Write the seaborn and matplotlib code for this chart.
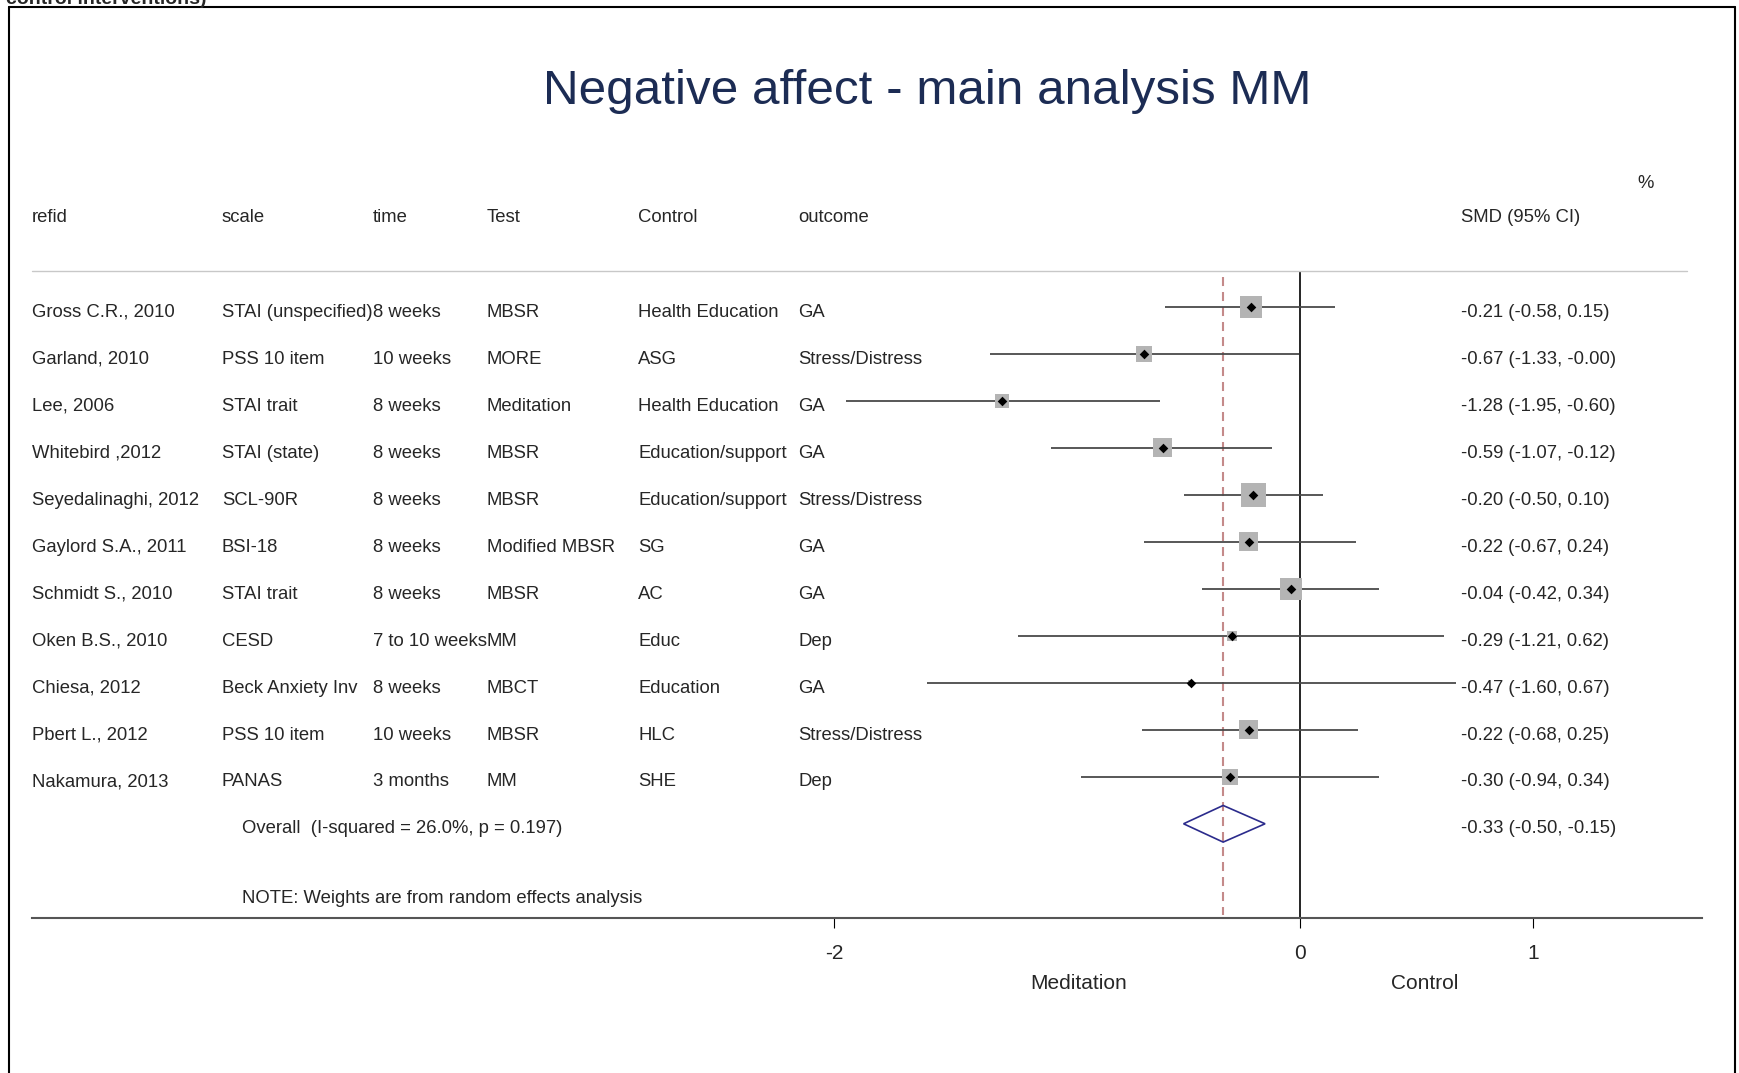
import numpy as np
import pandas as pd
import matplotlib
matplotlib.use("Agg")
import matplotlib.pyplot as plt
import seaborn as sns
from matplotlib.lines import Line2D

# ---------------- data ----------------
refid = ["Gross C.R., 2010", "Garland, 2010", "Lee, 2006", "Whitebird ,2012",
         "Seyedalinaghi, 2012", "Gaylord S.A., 2011", "Schmidt S., 2010",
         "Oken B.S., 2010", "Chiesa, 2012", "Pbert L., 2012", "Nakamura, 2013"]
scale = ["STAI (unspecified)", "PSS 10 item", "STAI trait", "STAI (state)", "SCL-90R",
         "BSI-18", "STAI trait", "CESD", "Beck Anxiety Inv", "PSS 10 item", "PANAS"]
time = ["8 weeks", "10 weeks", "8 weeks", "8 weeks", "8 weeks", "8 weeks", "8 weeks",
        "7 to 10 weeks", "8 weeks", "10 weeks", "3 months"]
test = ["MBSR", "MORE", "Meditation", "MBSR", "MBSR", "Modified MBSR", "MBSR", "MM",
        "MBCT", "MBSR", "MM"]
control = ["Health Education", "ASG", "Health Education", "Education/support",
           "Education/support", "SG", "AC", "Educ", "Education", "HLC", "SHE"]
outcome = ["GA", "Stress/Distress", "GA", "GA", "Stress/Distress", "GA", "GA", "Dep",
           "GA", "Stress/Distress", "Dep"]
smd = [-0.21, -0.67, -1.28, -0.59, -0.20, -0.22, -0.04, -0.29, -0.47, -0.22, -0.30]
ci_low = [-0.58, -1.33, -1.95, -1.07, -0.50, -0.67, -0.42, -1.21, -1.60, -0.68, -0.94]
ci_high = [0.15, -0.003, -0.60, -0.12, 0.10, 0.24, 0.34, 0.62, 0.67, 0.25, 0.34]
weight = [13.0, 7.1, 6.1, 10.4, 17.4, 10.4, 14.4, 2.9, 0.9, 10.4, 7.1]
overall_est, overall_low, overall_high = -0.33, -0.50, -0.15
i_squared = 26.0
p_value = 0.197
xticks = [-2, 0, 1]

title = "Negative affect - main analysis MM"
headers = ["refid", "scale", "time", "Test", "Control", "outcome"]
smd_header = "SMD (95% CI)"

# ---------------- style ----------------
sns.set_style("white")
plt.rcParams["font.family"] = ["Liberation Sans", "DejaVu Sans"]
plt.rcParams["axes.unicode_minus"] = False
plt.rcParams["lines.scale_dashes"] = False

W, H = 1739, 1073
fig = plt.figure(figsize=(W / 100, H / 100), dpi=100)


def fx(x):
    return x / W


def fy(y):
    return 1 - y / H


# axes region in pixel coordinates
ax_l, ax_r, ax_t, ax_b = 32, 1702, 271, 918
ax = fig.add_axes([fx(ax_l), fy(ax_b), (ax_r - ax_l) / W, (ax_b - ax_t) / H])
zero_px, unit_px = 1300.0, 232.9
ax.set_xlim((ax_l - zero_px) / unit_px, (ax_r - zero_px) / unit_px)
row0_px, row_px = 307.0, 46.98
ax.set_ylim((ax_b - row0_px) / row_px, (ax_t - row0_px) / row_px)

n = len(refid)
df = pd.DataFrame({"smd": smd, "lo": ci_low, "hi": ci_high, "w": weight,
                   "row": np.arange(n)})

# CI lines
ax.hlines(df["row"], df["lo"], df["hi"], color="#4a4a4a", lw=1.3, zorder=2)
# weight squares
k = 18.0
wmin, wmax = min(weight), max(weight)
sns.scatterplot(data=df, x="smd", y="row", size="w", sizes=(k * wmin, k * wmax),
                size_norm=(wmin, wmax), marker="s", color="#b4b4b4", linewidth=0,
                legend=False, ax=ax, zorder=3)
# point estimates
sns.scatterplot(data=df, x="smd", y="row", marker="D", s=24, color="black",
                linewidth=0, legend=False, ax=ax, zorder=4)

# overall diamond
orow = n
hh = 0.39
ax.fill([overall_low, overall_est, overall_high, overall_est, overall_low],
        [orow, orow - hh, orow, orow + hh, orow], facecolor="none",
        edgecolor="#2b2b8c", lw=1.2, zorder=4)

# reference lines
ax.axvline(0, color="black", lw=1.2, zorder=1)
ax.vlines(overall_est, -0.64, 12.94, colors="#c48a8a", lw=1.5,
          linestyles=(0, (6.5, 4.3)), zorder=1)

# separator line (top)
ax.plot([0, (1687 - ax_l) / (ax_r - ax_l)], [1, 1], transform=ax.transAxes,
        color="#c8c8c8", lw=1.0, clip_on=False)

# axes styling
for s in ["top", "left", "right"]:
    ax.spines[s].set_visible(False)
ax.spines["bottom"].set_color("#555555")
ax.spines["bottom"].set_linewidth(1.5)
ax.set_yticks([])
ax.set_xticks(xticks)
ax.set_xticklabels([str(t) for t in xticks])
ax.tick_params(axis="x", direction="out", length=7, width=0.8, color="black",
               labelsize=15, pad=12, bottom=True)
ax.set_xlabel("")
ax.set_ylabel("")
ax.grid(False)

# ---------------- texts ----------------
fs = 13.3
col_x = [32, 222, 373, 487, 638, 798]
smd_x = 1461
for cx, h in zip(col_x, headers):
    fig.text(fx(cx), fy(222), h, fontsize=fs, va="baseline", ha="left")
fig.text(fx(smd_x), fy(222), smd_header, fontsize=fs, va="baseline", ha="left")
fig.text(fx(1637), fy(188), "%", fontsize=fs, va="baseline", ha="left")

base0 = 316.7
for i in range(n):
    yb = fy(base0 + row_px * i)
    for cx, col in zip(col_x, [refid, scale, time, test, control, outcome]):
        fig.text(fx(cx), yb, col[i], fontsize=fs, va="baseline", ha="left")
    fig.text(fx(smd_x), yb, f"{smd[i]:.2f} ({ci_low[i]:.2f}, {ci_high[i]:.2f})",
             fontsize=fs, va="baseline", ha="left")

yb = fy(base0 + row_px * n)
fig.text(fx(242), yb, f"Overall  (I-squared = {i_squared:.1f}%, p = {p_value:.3f})",
         fontsize=fs, va="baseline", ha="left")
fig.text(fx(smd_x), yb, f"{overall_est:.2f} ({overall_low:.2f}, {overall_high:.2f})",
         fontsize=fs, va="baseline", ha="left")
fig.text(fx(242), fy(903), "NOTE: Weights are from random effects analysis",
         fontsize=fs, va="baseline", ha="left")

fig.text(fx(1079), fy(989), "Meditation", fontsize=15, va="baseline", ha="center")
fig.text(fx(1425), fy(989), "Control", fontsize=15, va="baseline", ha="center")

fig.text(fx(927), fy(104.5), title, fontsize=35.6, color="#1c2c54",
         va="baseline", ha="center")

# cut-off caption at the very top (as in the reference)
fig.text(fx(6), fy(4), "control interventions)", fontsize=14, fontweight="bold",
         va="baseline", ha="left")

# frame
for xs, ys in [([9, 9], [7, H]), ([9, 1735], [7, 7]), ([1735, 1735], [7, H])]:
    fig.add_artist(Line2D([fx(x) for x in xs], [fy(y) for y in ys],
                          transform=fig.transFigure, color="black", lw=1.5))

fig.savefig("out.png", dpi=100)
